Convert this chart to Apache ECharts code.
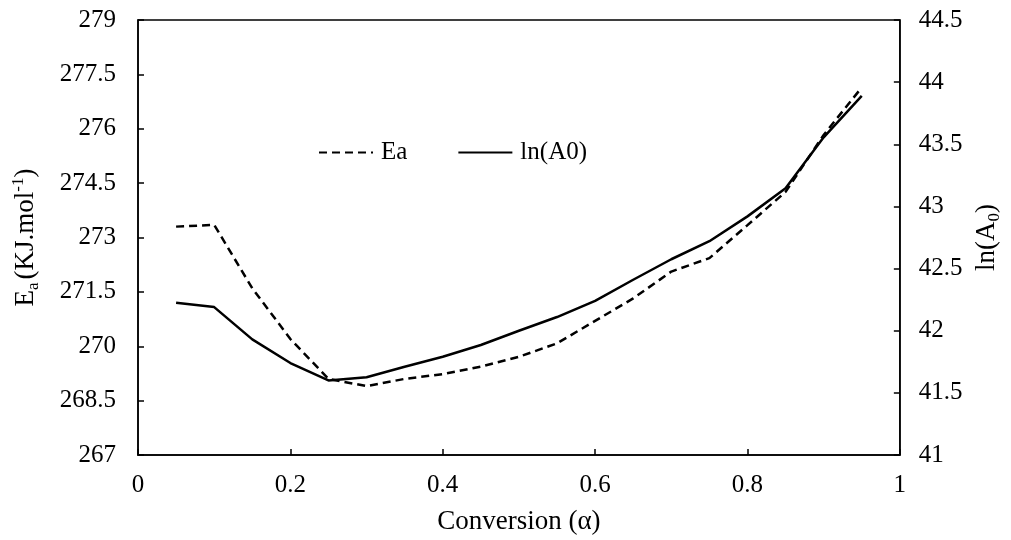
<!DOCTYPE html>
<html>
<head>
<meta charset="utf-8">
<script src="https://cdn.jsdelivr.net/npm/echarts@6/dist/echarts.min.js"></script>
<style>html,body{margin:0;padding:0;background:#fff}#c{width:1011px;height:540px}</style>
</head>
<body>
<div id="c"></div>
<script>
const conversion = [0.05,0.1,0.15,0.2,0.25,0.3,0.35,0.4,0.45,0.5,0.55,0.6,0.65,0.7,0.75,0.8,0.85,0.9,0.95];
const eaValues = [273.3,273.35,271.6,270.2,269.1,268.9,269.1,269.23,269.44,269.71,270.08,270.7,271.32,272.06,272.43,273.34,274.26,275.83,277.14];
const lnA0Values = [42.225,42.19,41.93,41.74,41.6,41.625,41.71,41.79,41.885,42.0,42.11,42.24,42.41,42.575,42.72,42.92,43.146,43.556,43.89];
const leftTicks = {min:267,max:279,interval:1.5};
const rightTicks = {min:41,max:44.5,interval:0.5};
const xTicks = {min:0,max:1,interval:0.2};

const font = 'Liberation Serif';
const FS = 25;
const chart = echarts.init(document.getElementById('c'));
const axisCommon = {
  axisLine:{show:true,lineStyle:{color:'#000',width:1.5}},
  axisTick:{show:true,inside:true,length:6,lineStyle:{color:'#000',width:1.5}},
  splitLine:{show:false}
};
chart.setOption({
  backgroundColor:'#fff',
  animation:false,
  grid:{left:138,right:107,top:20,bottom:85,show:true,borderColor:'#000',borderWidth:1.5,backgroundColor:'transparent'},
  legend:{
    left:313,top:135,itemWidth:54,itemHeight:16,itemGap:50,
    itemStyle:{opacity:0},
    textStyle:{color:'#000',fontFamily:font,fontSize:FS,padding:[0,0,0,3]},
    data:['Ea','ln(A0)']
  },
  xAxis:Object.assign({}, axisCommon, {
    type:'value',min:xTicks.min,max:xTicks.max,interval:xTicks.interval,
    axisLabel:{color:'#000',fontFamily:font,fontSize:FS,margin:18},
    name:'Conversion (α)',nameLocation:'middle',nameGap:53,
    nameTextStyle:{color:'#000',fontFamily:font,fontSize:27}
  }),
  yAxis:[
    Object.assign({}, axisCommon, {
      type:'value',position:'left',min:leftTicks.min,max:leftTicks.max,interval:leftTicks.interval,
      axisLabel:{color:'#000',fontFamily:font,fontSize:FS,margin:22},
      name:'{m|E}{s|a}{m|(KJ.mol}{p|-1}{m|)}',nameLocation:'middle',nameGap:96,nameRotate:90,
      nameTextStyle:{color:'#000',fontFamily:font,fontSize:27,
        rich:{
          m:{fontFamily:font,fontSize:27,color:'#000',lineHeight:32,verticalAlign:'middle'},
          s:{fontFamily:font,fontSize:17,color:'#000',verticalAlign:'bottom',lineHeight:32,padding:[0,3,0,0]},
          p:{fontFamily:font,fontSize:17,color:'#000',verticalAlign:'top',lineHeight:32}
        }}
    }),
    Object.assign({}, axisCommon, {
      type:'value',position:'right',min:rightTicks.min,max:rightTicks.max,interval:rightTicks.interval,
      axisLabel:{color:'#000',fontFamily:font,fontSize:FS,margin:19},
      name:'{m|ln(A}{s|0}{m|)}',nameLocation:'middle',nameGap:70,nameRotate:90,
      nameTextStyle:{color:'#000',fontFamily:font,fontSize:27,
        rich:{
          m:{fontFamily:font,fontSize:27,color:'#000',lineHeight:32,verticalAlign:'middle'},
          s:{fontFamily:font,fontSize:17,color:'#000',verticalAlign:'bottom',lineHeight:32}
        }}
    })
  ],
  series:[
    {name:'Ea',type:'line',yAxisIndex:0,symbol:'none',showSymbol:false,
     data:conversion.map((x,i)=>[x,eaValues[i]]),
     lineStyle:{color:'#000',width:2.5,type:[8,5]},itemStyle:{color:'#000'}},
    {name:'ln(A0)',type:'line',yAxisIndex:1,symbol:'none',showSymbol:false,
     data:conversion.map((x,i)=>[x,lnA0Values[i]]),
     lineStyle:{color:'#000',width:2.5,type:'solid'},itemStyle:{color:'#000'}}
  ]
});
</script>
</body>
</html>
